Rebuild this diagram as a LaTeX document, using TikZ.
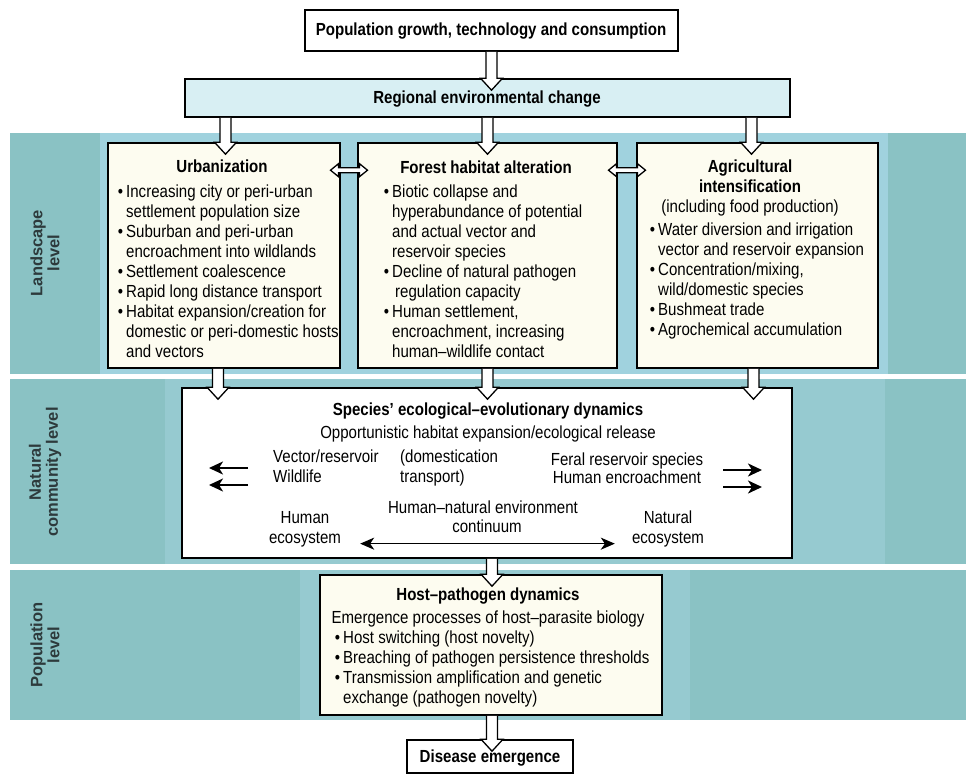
\documentclass[tikz,border=0pt]{standalone}
\usepackage{fontspec}
\setmainfont{Liberation Sans}[FakeStretch=0.86]
\newfontfamily\lblfont{Liberation Sans}
\usetikzlibrary{arrows.meta,calc}
\definecolor{bandteal}{RGB}{138,194,196}
\definecolor{bandlight}{RGB}{160,210,222}
\definecolor{bandmid}{RGB}{150,202,208}
\definecolor{regfill}{RGB}{216,239,243}
\definecolor{cream}{RGB}{253,252,240}
\definecolor{lbltext}{RGB}{45,58,60}
\tikzset{
  txt/.style={inner sep=0pt, font=\fontsize{17.5}{20}\selectfont},
  btxt/.style={inner sep=0pt, font=\fontsize{17.5}{20}\selectfont\bfseries},
  lbl/.style={inner sep=0pt, align=center, rotate=90, text=lbltext,
    font=\lblfont\fontsize{16.5}{17}\selectfont\bfseries},
  frame/.style={draw=black, line width=1.6pt, inner sep=0pt},
  whitebox/.style={frame, fill=white},
  creambox/.style={frame, fill=cream},
  regbox/.style={frame, fill=regfill},
  harr/.style={draw=black, fill=white, line width=1.3pt, line join=miter},
  blk/.style={line width=2pt, -{Stealth[length=14pt,width=13pt,inset=4pt]}},
  blkboth/.style={line width=1.6pt, {Stealth[length=14pt,width=12pt,inset=4pt]}-{Stealth[length=14pt,width=12pt,inset=4pt]}},
}
\newcommand\bu{\makebox[0pt][r]{\textbullet\hspace{3pt}}}
\newcommand\textlines[4]{%
  \foreach \tline [count=\i] in {#4} {
    \node[txt, anchor=base west] (#1-\i) at (#2, {#3+5.5+(\i-1)*20}) {\tline};
  }}
% hollow down arrow: #1 source point, #2 target point (only y used)
\newcommand\harrow[2]{%
  \path[harr] let \p1=(#1), \p2=(#2) in
    (\x1-5.5pt,\y1) -- (\x1-5.5pt,\y2) -- (\x1-11pt,\y2) -- (\x1,\y2-12pt)
    -- (\x1+11pt,\y2) -- (\x1+5.5pt,\y2) -- (\x1+5.5pt,\y1);}
% hollow double horizontal arrow between two boxes: #1 left box point, #2 right box point
\newcommand\dharrow[2]{%
  \path[harr] let \p1=(#1), \p2=(#2), \n1={(\x1+\x2)/2} in
    (\n1-18.5pt,\y1) -- (\n1-10.5pt,\y1+6.5pt) -- (\n1-10.5pt,\y1+2.5pt)
    -- (\n1+10.5pt,\y1+2.5pt) -- (\n1+10.5pt,\y1+6.5pt) -- (\n1+18.5pt,\y1)
    -- (\n1+10.5pt,\y1-6.5pt) -- (\n1+10.5pt,\y1-2.5pt) -- (\n1-10.5pt,\y1-2.5pt)
    -- (\n1-10.5pt,\y1-6.5pt) -- cycle;}
\begin{document}
\begin{tikzpicture}[x=1pt,y=-1pt]
\useasboundingbox (0,0) rectangle (966,776);
\fill[white] (0,0) rectangle (966,776);

% bands
\fill[bandteal] (10,133) rectangle (966,374);
\fill[bandlight] (100,133) rectangle (888,374);
\fill[bandteal] (10,379) rectangle (966,564);
\fill[bandmid] (165,379) rectangle (885,564);
\fill[bandteal] (10,570) rectangle (966,720);
\fill[bandmid] (300,570) rectangle (690,720);

% level labels
\node[lbl] (lland) at (45,253) {Landscape\\level};
\node[lbl] (lnat) at (45,472) {Natural\\community level};
\node[lbl] (lpop) at (45,645) {Population\\level};

% boxes
\node[whitebox, minimum width=373pt, minimum height=41pt] (top) at (491.5,30.5) {};
\node[regbox, minimum width=605pt, minimum height=38pt] (reg) at (487.5,98) {};
\node[creambox, minimum width=232pt, minimum height=225pt] (urb) at (224,255.5) {};
\node[creambox, minimum width=259pt, minimum height=225pt] (for) at (487.5,255.5) {};
\node[creambox, minimum width=241pt, minimum height=225pt] (agr) at (757.5,255.5) {};
\node[whitebox, minimum width=610pt, minimum height=170pt] (mid) at (487,473) {};
\node[creambox, minimum width=342pt, minimum height=140pt] (host) at (491,645) {};
\node[whitebox, minimum width=166pt, minimum height=33pt] (dis) at (490,756.5) {};

% hollow arrows
\harrow{top.south}{reg.north}
\harrow{$(reg.south)+(-262,0)$}{urb.north}
\harrow{reg.south}{for.north}
\harrow{$(reg.south)+(264,0)$}{agr.north}
\harrow{$(urb.south)+(-6,0)$}{mid.north}
\harrow{for.south}{mid.north}
\harrow{$(agr.south)+(-4,0)$}{mid.north}
\harrow{$(mid.south)+(5,0)$}{host.north}
\harrow{$(host.south)+(1,0)$}{dis.north}
\dharrow{$(urb.north east)+(0,28)$}{$(for.north west)+(0,28)$}
\dharrow{$(for.north east)+(0,28)$}{$(agr.north west)+(0,28)$}

% box texts
\node[btxt, anchor=base] (ttop) at (491,35.5) {Population growth, technology and consumption};
\node[btxt, anchor=base] (treg) at (487,103.5) {Regional environmental change};

\node[btxt, anchor=base] (turb) at (222,172.5) {Urbanization};
\textlines{u}{126}{192}{{\bu Increasing city or peri-urban},
  settlement population size,
  {\bu Suburban and peri-urban},
  encroachment into wildlands,
  {\bu Settlement coalescence},
  {\bu Rapid long distance transport},
  {\bu Habitat expansion/creation for},
  domestic or peri-domestic hosts,
  and vectors}

\node[btxt, anchor=base] (tfor) at (486,173.5) {Forest habitat alteration};
\textlines{f}{392}{192}{{\bu Biotic collapse and},
  hyperabundance of potential,
  and actual vector and,
  reservoir species,
  {\bu Decline of natural pathogen},
  {\,regulation capacity},
  {\bu Human settlement,},
  {encroachment, increasing},
  human–wildlife contact}

\node[btxt, anchor=base] (tagr1) at (750,172.5) {Agricultural};
\node[btxt, anchor=base] (tagr2) at (750,192.5) {intensification};
\node[txt, anchor=base] (tagr3) at (750,212.5) {(including food production)};
\textlines{a}{658}{230}{{\bu Water diversion and irrigation},
  vector and reservoir expansion,
  {\bu Concentration/mixing,},
  wild/domestic species,
  {\bu Bushmeat trade},
  {\bu Agrochemical accumulation}}

% middle box
\node[btxt, anchor=base] (tmid1) at (488,415.5) {Species' ecological–evolutionary dynamics};
\node[txt, anchor=base] (tmid2) at (488,438.5) {Opportunistic habitat expansion/ecological release};
\node[txt, anchor=base west] (vr1) at (273,462.5) {Vector/reservoir};
\node[txt, anchor=base west] (vr2) at (273,482.5) {Wildlife};
\node[txt, anchor=base west] (dt1) at (400,462.5) {(domestication};
\node[txt, anchor=base west] (dt2) at (400,482.5) {transport)};
\node[txt, anchor=base] (fr1) at (627,465.5) {Feral reservoir species};
\node[txt, anchor=base] (fr2) at (627,483.5) {Human encroachment};
\node[txt, anchor=base] (he1) at (305,523.5) {Human};
\node[txt, anchor=base] (he2) at (305,543.5) {ecosystem};
\node[txt, anchor=base] (hn1) at (483,513) {Human–natural environment};
\node[txt, anchor=base] (hn2) at (487,532) {continuum};
\node[txt, anchor=base] (ne1) at (668,523.5) {Natural};
\node[txt, anchor=base] (ne2) at (668,543.5) {ecosystem};

\coordinate (la1s) at (248,468); \coordinate (la1e) at (209,468);
\coordinate (la2s) at (248,485); \coordinate (la2e) at (209,485);
\coordinate (ra1s) at (723,470); \coordinate (ra1e) at (762,470);
\coordinate (ra2s) at (723,487); \coordinate (ra2e) at (762,487);
\draw[blk] (la1s) -- (la1e);
\draw[blk] (la2s) -- (la2e);
\draw[blk] (ra1s) -- (ra1e);
\draw[blk] (ra2s) -- (ra2e);
\draw[blkboth] ($(he2.east)+(19,4)$) -- ($(ne2.west)+(-17,4)$);

% host box
\node[btxt, anchor=base] (thost) at (488,600.5) {Host–pathogen dynamics};
\node[txt, anchor=base] (thost2) at (488,623.5) {Emergence processes of host–parasite biology};
\textlines{h}{343}{638}{{\bu Host switching (host novelty)},
  {\bu Breaching of pathogen persistence thresholds},
  {\bu Transmission amplification and genetic},
  exchange (pathogen novelty)}

\node[btxt, anchor=base] (tdis) at (490,762) {Disease emergence};
\end{tikzpicture}
\end{document}
